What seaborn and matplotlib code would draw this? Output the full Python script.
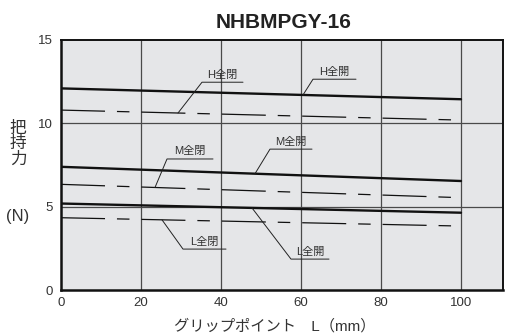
import matplotlib
matplotlib.use("Agg")
import matplotlib.pyplot as plt
import numpy as np
import pandas as pd
import seaborn as sns

# grip point L (mm)
grip_point = [0, 100]

# gripping force (N) per pressure level; 全開 = solid, 全閉 = dashed
series_names = ["H全開", "H全閉", "M全開", "M全閉", "L全開", "L全閉"]
h_open = [12.1, 11.45]
h_closed = [10.8, 10.2]
m_open = [7.4, 6.55]
m_closed = [6.35, 5.55]
l_open = [5.2, 4.65]
l_closed = [4.35, 3.85]
series_values = [h_open, h_closed, m_open, m_closed, l_open, l_closed]

x_ticks = [0, 20, 40, 60, 80, 100]
y_ticks = [0, 5, 10, 15]

sns.set_theme(style="white")
plt.rcParams["font.family"] = ["Liberation Sans", "Noto Sans CJK JP", "DejaVu Sans"]

fig = plt.figure(figsize=(5.09, 3.33), dpi=100)
ax = fig.add_axes([61 / 509, 42.7 / 333, 442 / 509, 250.3 / 333])
ax.set_facecolor("#e5e6e8")

# grid lines
for gx in [20, 40, 60, 80, 100]:
    ax.axvline(gx, color="#4a4a4a", lw=0.9, zorder=1)
for gy in [5, 10]:
    ax.axhline(gy, color="#4a4a4a", lw=0.9, zorder=1)

df = pd.DataFrame(
    [
        {"L": x, "force": v, "series": name}
        for name, vals in zip(series_names, series_values)
        for x, v in zip(grip_point, vals)
    ]
)

dash_lw = 0.9
dash_pattern = np.array([31.7, 8.6, 9.0, 8.6]) / dash_lw
for name in series_names:
    sub = df[df["series"] == name]
    if name.endswith("全開"):
        sns.lineplot(data=sub, x="L", y="force", ax=ax, color="#111111", lw=1.7, zorder=3)
    else:
        sns.lineplot(data=sub, x="L", y="force", ax=ax, color="#111111", lw=dash_lw, zorder=3)
        ax.lines[-1].set_dashes(list(dash_pattern))

# leader-line labels: (name, point on line x, underline start x, underline y, underline length)
labels = [
    ("H全閉", 29.25, 35.25, 12.47, 10.25),
    ("H全開", 60.5, 63.0, 12.65, 10.75),
    ("M全閉", 23.5, 26.5, 7.87, 11.5),
    ("M全開", 48.5, 52.25, 8.46, 10.5),
    ("L全閉", 25.25, 30.5, 2.47, 10.75),
    ("L全開", 47.75, 57.5, 1.87, 9.5),
]
for name, px, ux, uy, ulen in labels:
    vals = series_values[series_names.index(name)]
    py = np.interp(px, grip_point, vals)
    ax.plot([px, ux, ux + ulen], [py, uy, uy], color="#222222", lw=0.7, zorder=4)
    ax.text(ux + ulen / 2, uy + 0.15, name, ha="center", va="bottom",
            fontsize=8, color="#333333", zorder=5)

ax.set_xlim(0, 110.5)
ax.set_ylim(0, 15)
ax.set_xticks(x_ticks)
ax.set_yticks(y_ticks)
ax.tick_params(axis="both", length=0, labelsize=9.5, labelcolor="#333333")
ax.tick_params(axis="x", pad=5)
ax.tick_params(axis="y", pad=6)
ax.set_xlabel("")
ax.set_ylabel("")
for side in ["left", "bottom", "top", "right"]:
    ax.spines[side].set_visible(True)
    ax.spines[side].set_color("#111111")
ax.spines["left"].set_linewidth(1.8)
ax.spines["bottom"].set_linewidth(1.8)
ax.spines["top"].set_linewidth(1.4)
ax.spines["right"].set_linewidth(1.4)

fig.text(283.5 / 509, 1 - 23 / 333, "NHBMPGY-16", ha="center", va="center",
         fontsize=15, fontweight="bold", color="#222222")
fig.text(18 / 509, 1 - 144 / 333, "把\n持\n力", ha="center", va="center",
         fontsize=12, color="#333333", linespacing=1.05)
fig.text(18 / 509, 1 - 217 / 333, "(N)", ha="center", va="center",
         fontsize=12, color="#333333")
fig.text(275 / 509, 1 - 326 / 333, "グリップポイント　L（mm）", ha="center", va="center",
         fontsize=11, color="#333333")

fig.savefig("out.png", dpi=100)
